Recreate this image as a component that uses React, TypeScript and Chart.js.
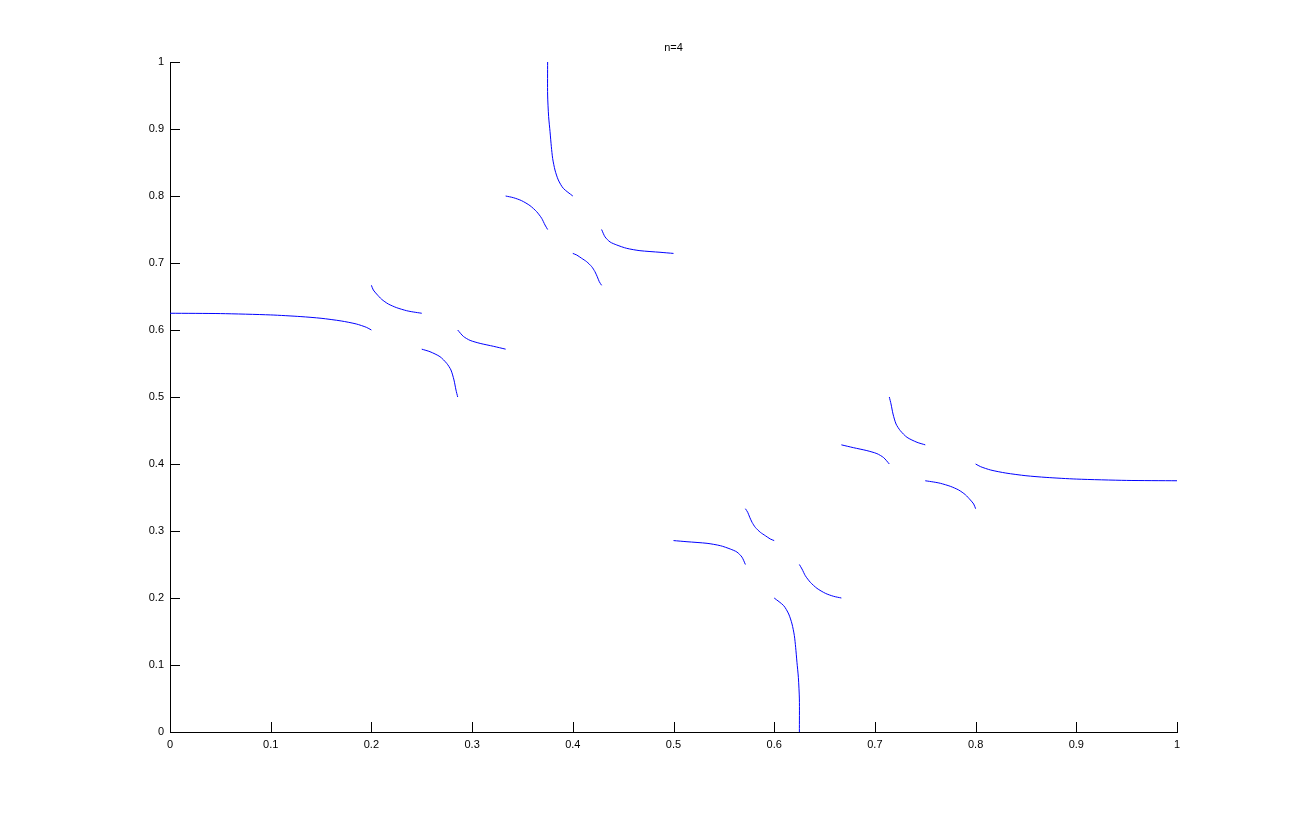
import React, { useEffect, useRef } from "react";
import { Chart, registerables } from "chart.js";

Chart.register(...registerables);

const titleText = "n=4";
const xTickValues = [0, 0.1, 0.2, 0.3, 0.4, 0.5, 0.6, 0.7, 0.8, 0.9, 1];
const yTickValues = [0, 0.1, 0.2, 0.3, 0.4, 0.5, 0.6, 0.7, 0.8, 0.9, 1];

// Curve segments: [x, y] pairs
const curveA = [[0, 0.625], [0.05, 0.6245], [0.1, 0.6225], [0.13, 0.62], [0.15, 0.6175], [0.17, 0.6135], [0.185, 0.609], [0.195, 0.604], [0.2, 0.6]];
const curveB = [[0.2, 0.6667], [0.2019, 0.6597], [0.2052, 0.6537], [0.2102, 0.6458], [0.2168, 0.6388], [0.2251, 0.6333], [0.235, 0.6288], [0.2416, 0.6269], [0.25, 0.625]];
const curveC = [[0.25, 0.5714], [0.2582, 0.5676], [0.2681, 0.5602], [0.2748, 0.5502], [0.279, 0.5403], [0.282, 0.5254], [0.284, 0.5104], [0.2857, 0.5]];
const curveD = [[0.2857, 0.6], [0.2913, 0.5905], [0.298, 0.5845], [0.308, 0.58], [0.3214, 0.5756], [0.3333, 0.5714]];
const curveE = [[0.375, 1], [0.375, 0.9507], [0.376, 0.9184], [0.3774, 0.896], [0.3787, 0.8736], [0.38, 0.856], [0.3823, 0.8388], [0.3856, 0.8239], [0.3906, 0.8114], [0.4, 0.8]];
const curveF = [[0.3333, 0.8], [0.341, 0.7975], [0.3492, 0.793], [0.3575, 0.7856], [0.3641, 0.7766], [0.3691, 0.7667], [0.3724, 0.7567], [0.375, 0.75]];
const curveG = [[0.4, 0.7143], [0.4039, 0.7119], [0.4088, 0.707], [0.4138, 0.7019], [0.4188, 0.6945], [0.422, 0.687], [0.4243, 0.6795], [0.4263, 0.6721], [0.4286, 0.6667]];
const curveH = [[0.4286, 0.75], [0.432, 0.739], [0.437, 0.7314], [0.4436, 0.7269], [0.4535, 0.7219], [0.4667, 0.7184], [0.4866, 0.716], [0.5, 0.7143]];
const curveA2 = [[1, 0.375], [0.95, 0.3755], [0.9, 0.3775], [0.87, 0.38], [0.85, 0.3825], [0.83, 0.3865], [0.815, 0.391], [0.805, 0.396], [0.8, 0.4]];
const curveB2 = [[0.8, 0.3333], [0.7981, 0.3403], [0.7948, 0.3463], [0.7898, 0.3542], [0.7832, 0.3612], [0.7749, 0.3667], [0.765, 0.3712], [0.7584, 0.3731], [0.75, 0.375]];
const curveC2 = [[0.75, 0.4286], [0.7418, 0.4324], [0.7319, 0.4398], [0.7252, 0.4498], [0.721, 0.4597], [0.718, 0.4746], [0.716, 0.4896], [0.7143, 0.5]];
const curveD2 = [[0.7143, 0.4], [0.7087, 0.4095], [0.702, 0.4155], [0.692, 0.42], [0.6786, 0.4244], [0.6667, 0.4286]];
const curveE2 = [[0.625, 0], [0.625, 0.0493], [0.624, 0.0816], [0.6226, 0.104], [0.6213, 0.1264], [0.62, 0.144], [0.6177, 0.1612], [0.6144, 0.1761], [0.6094, 0.1886], [0.6, 0.2]];
const curveF2 = [[0.6667, 0.2], [0.659, 0.2025], [0.6508, 0.207], [0.6425, 0.2144], [0.6359, 0.2234], [0.6309, 0.2333], [0.6276, 0.2433], [0.625, 0.25]];
const curveG2 = [[0.6, 0.2857], [0.5961, 0.2881], [0.5912, 0.293], [0.5862, 0.2981], [0.5812, 0.3055], [0.578, 0.313], [0.5757, 0.3205], [0.5737, 0.3279], [0.5714, 0.3333]];
const curveH2 = [[0.5714, 0.25], [0.568, 0.261], [0.563, 0.2686], [0.5564, 0.2731], [0.5465, 0.2781], [0.5333, 0.2816], [0.5134, 0.284], [0.5, 0.2857]];

const curves = [curveA, curveB, curveC, curveD, curveE, curveF, curveG, curveH, curveA2, curveB2, curveC2, curveD2, curveE2, curveF2, curveG2, curveH2];

const FONT = "'Liberation Sans', Arial, sans-serif";

const inwardTicks = {
  id: "inwardTicks",
  afterDraw(chart: any) {
    const ctx = chart.ctx;
    const xs = chart.scales.x;
    const ys = chart.scales.y;
    const area = chart.chartArea;
    ctx.save();
    ctx.strokeStyle = "#000";
    ctx.lineWidth = 1;
    ctx.beginPath();
    xTickValues.forEach((v) => {
      const px = Math.round(xs.getPixelForValue(v)) + 0.5;
      ctx.moveTo(px, area.bottom);
      ctx.lineTo(px, area.bottom - 10);
    });
    yTickValues.forEach((v) => {
      const py = Math.round(ys.getPixelForValue(v)) + 0.5;
      ctx.moveTo(area.left, py);
      ctx.lineTo(area.left + 10, py);
    });
    ctx.stroke();
    ctx.restore();
  },
};

export default function App() {
  const ref = useRef<HTMLCanvasElement>(null);
  useEffect(() => {
    if (!ref.current) return;
    const chart = new Chart(ref.current, {
      type: "scatter",
      data: {
        datasets: curves.map((c, i) => ({
          label: "curve" + i,
          data: c.map(([x, y]) => ({ x, y })),
          showLine: true,
          borderColor: "#0000ff",
          borderWidth: 1,
          pointRadius: 0,
          pointHoverRadius: 0,
          fill: false,
          tension: 0.25,
        })),
      },
      options: {
        animation: false,
        responsive: false,
        events: [],
        layout: { padding: { left: 0, right: 124, top: 0, bottom: 0 } },
        plugins: {
          legend: { display: false },
          tooltip: { enabled: false },
          title: {
            display: true,
            text: titleText,
            fullSize: false,
            color: "#000",
            font: { family: FONT, size: 11, weight: "normal" },
            padding: { top: 41, bottom: 7.8 },
          },
        },
        scales: {
          x: {
            type: "linear",
            min: 0,
            max: 1,
            afterBuildTicks: (s: any) => { s.ticks = xTickValues.map((v) => ({ value: v })); },
            afterFit: (s: any) => { s.height = 92; },
            grid: { display: false, drawTicks: false },
            border: { display: true, color: "#000", width: 1 },
            ticks: {
              color: "#000",
              padding: 6,
              font: { family: FONT, size: 11 },
              maxRotation: 0,
              callback: (v: any) => String(v),
            },
          },
          y: {
            type: "linear",
            min: 0,
            max: 1,
            afterBuildTicks: (s: any) => { s.ticks = yTickValues.map((v) => ({ value: v })); },
            afterFit: (s: any) => { s.width = 170; },
            grid: { display: false, drawTicks: false },
            border: { display: true, color: "#000", width: 1 },
            ticks: {
              color: "#000",
              padding: 6,
              font: { family: FONT, size: 11 },
              callback: (v: any) => String(v),
            },
          },
        },
      },
      plugins: [inwardTicks],
    });
    return () => chart.destroy();
  }, []);
  return (
    <div style={{ position: "fixed", left: 0, top: 0, width: 1301, height: 824, background: "#fff" }}>
      <canvas ref={ref} width={1301} height={824} />
    </div>
  );
}
